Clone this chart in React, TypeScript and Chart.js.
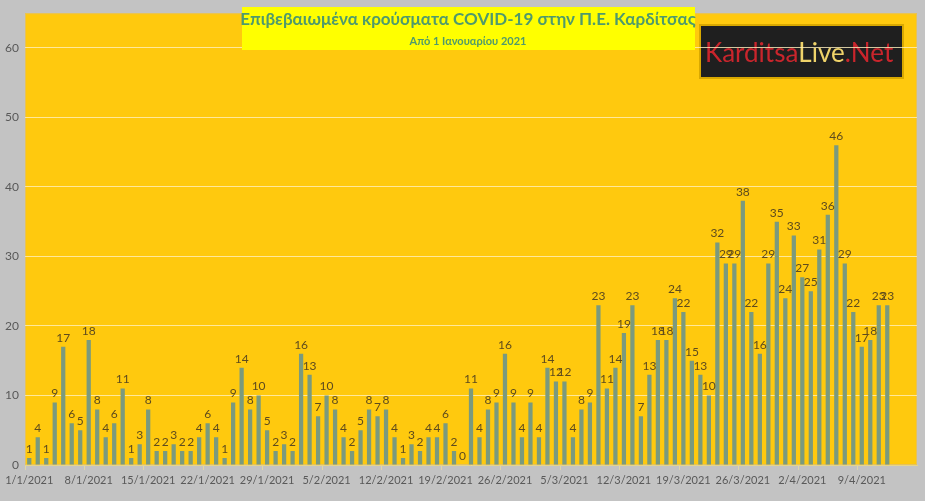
import React, { useRef, useEffect } from "react";
import Chart, { ChartConfiguration, Plugin } from "chart.js/auto";

// daily confirmed cases, 1/1/2021 .. 12/4/2021
const cases: (number | null)[] = [
  1, 4, 1, 9, 17, 6, 5, 18, 8, 4,
  6, 11, 1, 3, 8, 2, 2, 3, 2, 2,
  4, 6, 4, 1, 9, 14, 8, 10, 5, 2,
  3, 2, 16, 13, 7, 10, 8, 4, 2, 5,
  8, 7, 8, 4, 1, 3, 2, 4, 4, 6,
  2, 0, 11, 4, 8, 9, 16, 9, 4, 9,
  4, 14, 12, 12, 4, 8, 9, 23, 11, 14,
  19, 23, 7, 13, 18, 18, 24, 22, 15, 13,
  10, 32, 29, 29, 38, 22, 16, 29, 35, 24,
  33, 27, 25, 31, 36, 46, 29, 22, 17, 18,
  23, 23,
  // axis runs on to 15/4, no figures yet
  null, null, null,
];

const startDate = new Date(2021, 0, 1);
const days = cases.map((_, i) => {
  const d = new Date(startDate.getTime());
  d.setDate(d.getDate() + i);
  return `${d.getDate()}/${d.getMonth() + 1}/${d.getFullYear()}`;
});

const titleText = "Επιβεβαιωμένα κρούσματα COVID-19 στην Π.Ε. Καρδίτσας";
const subtitleText = "Από 1 Ιανουαρίου 2021";

const FONT = "Lato, 'Open Sans', sans-serif";

const backdrop: Plugin<"bar"> = {
  id: "backdrop",
  beforeDraw(chart) {
    const { ctx, chartArea: a } = chart;
    ctx.save();
    ctx.fillStyle = "#FFC90E";
    ctx.fillRect(a.left, a.top, a.right - a.left, a.bottom - a.top);
    ctx.strokeStyle = "#E6C25A";
    ctx.lineWidth = 1;
    ctx.strokeRect(a.left + 0.5, a.top + 0.5, a.right - a.left - 1, a.bottom - a.top - 1);

    // logo block (under the grid lines, as in the original)
    ctx.fillStyle = "#D9A800";
    ctx.fillRect(699, 24, 205, 55);
    ctx.fillStyle = "#1F1F1F";
    ctx.fillRect(701, 26, 201, 51);
    ctx.font = `26px ${FONT}`;
    ctx.textBaseline = "middle";
    ctx.textAlign = "left";
    let x = 705;
    const parts: [string, string][] = [
      ["Karditsa", "#C9252C"],
      ["Live", "#EFD36A"],
      [".Net", "#C9252C"],
    ];
    parts.forEach(([t, c]) => {
      ctx.fillStyle = c;
      ctx.fillText(t, x, 54);
      x += ctx.measureText(t).width;
    });
    ctx.restore();
  },
};

const overlay: Plugin<"bar"> = {
  id: "overlay",
  afterDatasetsDraw(chart) {
    const { ctx } = chart;
    const meta = chart.getDatasetMeta(0);
    ctx.save();
    ctx.font = `12px ${FONT}`;
    ctx.fillStyle = "#5E4B1E";
    ctx.textAlign = "center";
    ctx.textBaseline = "bottom";
    meta.data.forEach((bar, i) => {
      const v = cases[i];
      if (v === null) return;
      ctx.fillText(String(v), bar.x, bar.y - 3);
    });
    ctx.restore();
  },
  afterDraw(chart) {
    const { ctx } = chart;
    ctx.save();
    ctx.fillStyle = "#FFFF00";
    ctx.fillRect(242, 7, 453, 43);
    ctx.fillStyle = "#4F9A6C";
    ctx.textAlign = "center";
    ctx.textBaseline = "middle";
    ctx.font = `bold 17px ${FONT}`;
    ctx.fillText(titleText, 468, 20);
    ctx.font = `bold 11px ${FONT}`;
    ctx.fillText(subtitleText, 468, 41);
    ctx.restore();
  },
};

const App = () => {
  const chartRef = useRef<HTMLCanvasElement>(null);
  const chartInstanceRef = useRef<Chart<"bar">>();

  useEffect(() => {
    document.body.style.margin = "0";
    const ctx = chartRef.current!.getContext("2d");

    if (chartInstanceRef.current) {
      chartInstanceRef.current.destroy();
    }

    const config: ChartConfiguration<"bar"> = {
      type: "bar",
      data: {
        labels: days,
        datasets: [
          {
            label: "Κρούσματα",
            data: cases,
            backgroundColor: "#7A9A7E",
            barPercentage: 0.5,
            categoryPercentage: 1,
          },
        ],
      },
      plugins: [backdrop, overlay],
      options: {
        animation: false,
        responsive: false,
        layout: { padding: { top: 6, right: 8, left: 0, bottom: 0 } },
        plugins: {
          legend: { display: false },
          tooltip: { enabled: false },
        },
        scales: {
          x: {
            grid: {
              offset: true,
              drawOnChartArea: false,
              tickLength: 5,
              color: (c) => (c.index % 7 === 0 ? "#E0D6A8" : "transparent"),
            },
            border: { color: "#E6D58A" },
            ticks: {
              autoSkip: false,
              maxRotation: 0,
              padding: 4,
              color: "#595959",
              font: { family: FONT, size: 11 },
              callback: (_v, i) => (i % 7 === 0 ? days[i] : ""),
            },
            afterFit: (s) => {
              s.height = 36;
            },
          },
          y: {
            min: 0,
            max: 65,
            ticks: {
              stepSize: 10,
              color: "#595959",
              padding: 6,
              font: { family: FONT, size: 12 },
            },
            afterBuildTicks: (s) => {
              s.ticks = s.ticks.filter((t) => t.value % 10 === 0);
            },
            grid: { color: "rgba(255,240,190,0.8)", drawTicks: false },
            border: { display: false },
            afterFit: (s) => {
              s.width = 25;
            },
          },
        },
      },
    };

    if (ctx) {
      chartInstanceRef.current = new Chart(ctx, config);
    }

    return () => {
      if (chartInstanceRef.current) {
        chartInstanceRef.current.destroy();
      }
    };
  }, []);

  return (
    <div
      style={{
        position: "absolute",
        left: 0,
        top: 0,
        width: "925px",
        height: "501px",
        background: "#C3C3C3",
      }}
    >
      <canvas ref={chartRef} width={925} height={501} style={{ width: "925px", height: "501px" }} />
    </div>
  );
};

export default App;
